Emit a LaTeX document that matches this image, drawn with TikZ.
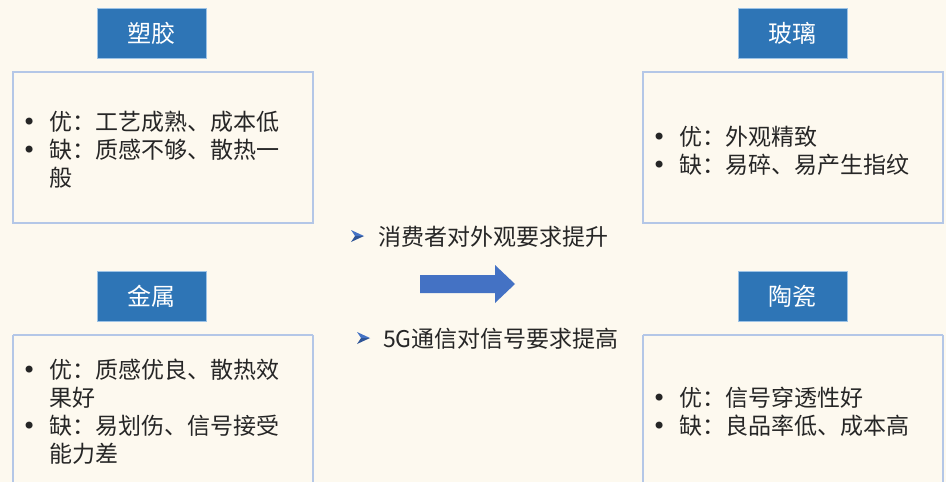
\documentclass[tikz,border=0pt]{standalone}
\usepackage{fontspec}
\setmainfont{Noto Sans CJK SC}
\newfontfamily\symfont{DejaVu Sans}
\definecolor{bgc}{HTML}{FDF9EF}
\definecolor{titlefill}{HTML}{2E75B6}
\definecolor{titleline}{HTML}{9DC3E6}
\definecolor{boxline}{HTML}{B4C7E7}
\definecolor{arrowc}{HTML}{4472C4}
\definecolor{arrowdark}{HTML}{2F5597}
\definecolor{txt}{HTML}{262626}
\tikzset{
  titlebox/.style={fill=titlefill,draw=titleline,line width=1pt,minimum width=109pt,minimum height=50pt,inner sep=0pt,text=white,font=\fontsize{24}{28}\selectfont},
  infobox/.style={draw=boxline,line width=1.5pt,fill=none},
  infotext/.style={anchor=west,inner sep=0pt,text=txt,align=left,font=\fontsize{23}{28}\selectfont},
  midtext/.style={anchor=west,inner sep=0pt,text=txt,font=\fontsize{23}{28}\selectfont},
  chevup/.style={fill=arrowc},
  chevlow/.style={fill=arrowdark}
}
\newcommand{\bul}{\makebox[27pt][l]{\symfont\fontsize{24}{24}\selectfont •}}
\newcommand{\ind}{\makebox[27pt][l]{}}
\newcommand{\chev}[2]{%
  \fill[chevup] (#1,#2-6) -- (#1+13,#2) -- (#1+4,#2) -- cycle;
  \fill[chevlow] (#1+4,#2) -- (#1+13,#2) -- (#1,#2+6) -- cycle;}
\begin{document}
\begin{tikzpicture}[x=1pt,y=-1pt]
\fill[bgc] (0,0) rectangle (946,482);
\useasboundingbox (0,0) rectangle (946,482);
% plastic
\node[titlebox] (t1) at (151.5,33) {塑胶};
\draw[infobox] (13,72) rectangle (313,223);
\node[infotext] (p1) at (22,150) {\bul 优：工艺成熟、成本低\\ \bul 缺：质感不够、散热一\\ \ind 般};
% glass
\node[titlebox] (t2) at (792.5,33) {玻璃};
\draw[infobox] (643,72) rectangle (943,223);
\node[infotext] (p2) at (652,151) {\bul 优：外观精致\\ \bul 缺：易碎、易产生指纹};
% metal
\node[titlebox] (t3) at (151.5,296) {金属};
\draw[infobox] (13,335) -- (13,490) (313,335) -- (313,490) (13,335) -- (313,335);
\node[infotext] (p3) at (22,411.5) {\bul 优：质感优良、散热效\\ \ind 果好\\ \bul 缺：易划伤、信号接受\\ \ind 能力差};
% ceramic
\node[titlebox] (t4) at (792.5,296) {陶瓷};
\draw[infobox] (643,335) -- (643,490) (943,335) -- (943,490) (643,335) -- (943,335);
\node[infotext] (p4) at (652,411.5) {\bul 优：信号穿透性好\\ \bul 缺：良品率低、成本高};
% middle
\chev{351}{236}
\node[midtext] (m1) at (378,237) {消费者对外观要求提升};
\chev{357}{338}
\node[midtext] (m2) at (383,339) {5G通信对信号要求提高};
\fill[arrowc] (420,275) -- (495,275) -- (495,265) -- (515,284) -- (495,303) -- (495,293) -- (420,293) -- cycle;
\end{tikzpicture}
\end{document}
